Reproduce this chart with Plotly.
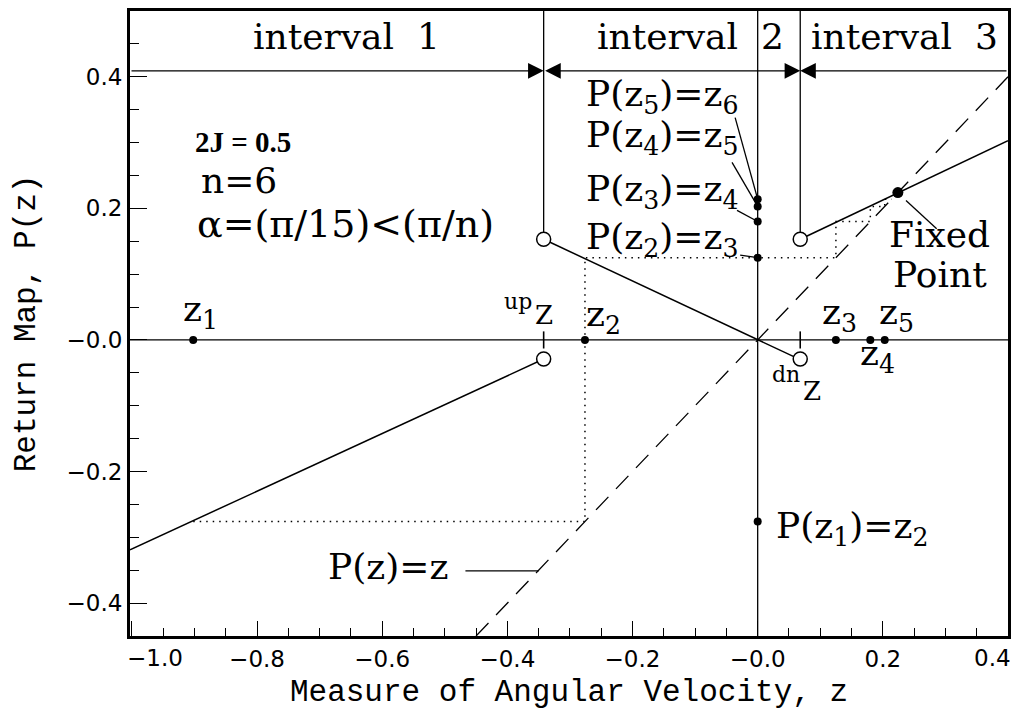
import plotly.graph_objects as go

# ---- axis extent and tick labels ----
X_RANGE = [-1.003, 0.40]
Y_RANGE = [-0.45, 0.50]
x_tickvals = [-1.0, -0.8, -0.6, -0.4, -0.2, 0.0, 0.2, 0.4]
x_ticktext = ["−1.0", "−0.8", "−0.6", "−0.4", "−0.2", "−0.0", "0.2", "0.4"]
y_tickvals = [-0.4, -0.2, 0.0, 0.2, 0.4]
y_ticktext = ["−0.4", "−0.2", "−0.0", "0.2", "0.4"]

# ---- discontinuities of the return map ----
z_up = -0.342
z_dn = 0.068
jump_high = 0.153
jump_low = -0.029

# ---- branches of the piecewise-linear return map ----
branch1_z = [-1.003, z_up]
branch1_p = [-0.319, jump_low]
branch2_z = [z_up, 0.0, z_dn]
branch2_p = [jump_high, 0.0, -0.030]
branch3_z = [z_dn, 0.40]
branch3_p = [jump_high, 0.303]

# ---- orbit z1 .. z6 and the fixed point ----
orbit_z = [-0.902, -0.276, 0.125, 0.180, 0.203, 0.214]
fixed_point = 0.224

# height of the interval arrows
arrow_y = 0.409

BLACK = "black"
SERIF = "DejaVu Serif"
TICK_FONT = dict(family="DejaVu Sans", size=23, color=BLACK)
fig = go.Figure()


def add_line(xs, ys, width=1.4, dash="solid"):
    fig.add_trace(go.Scatter(x=xs, y=ys, mode="lines", hoverinfo="skip",
                             line=dict(color=BLACK, width=width, dash=dash)))


# axes through the origin
add_line([X_RANGE[0], X_RANGE[1]], [0, 0], 1.3)
add_line([0, 0], [Y_RANGE[0], Y_RANGE[1]], 1.3)

# interval boundaries
add_line([z_up, z_up], [jump_high, Y_RANGE[1]], 1.3)
add_line([z_dn, z_dn], [jump_high, Y_RANGE[1]], 1.3)
add_line([z_up, z_up], [-0.013, 0.013], 1.6)
add_line([z_dn, z_dn], [-0.013, 0.013], 1.6)

# identity line P(z) = z
add_line([Y_RANGE[0], X_RANGE[1]], [Y_RANGE[0], X_RANGE[1]], 1.3, "18px,11px")

# cobweb of the orbit
cob_x, cob_y = [], []
for k in range(len(orbit_z) - 1):
    cob_x += [orbit_z[k], orbit_z[k + 1]]
    cob_y += [orbit_z[k + 1], orbit_z[k + 1]]
add_line(cob_x, cob_y, 1.5, "1.5px,5px")

# map branches
add_line(branch1_z, branch1_p, 1.5)
add_line(branch2_z, branch2_p, 1.5)
add_line(branch3_z, branch3_p, 1.5)

# leader lines for the labels
leaders = [
    ([-0.036, 0.0], [0.338, orbit_z[5]]),
    ([-0.041, 0.0], [0.270, orbit_z[4]]),
    ([-0.033, 0.0], [0.197, orbit_z[3]]),
    ([-0.028, 0.0], [0.129, orbit_z[2]]),
    ([0.237, 0.286], [0.212, 0.169]),
    ([-0.467, -0.350], [-0.351, -0.351]),
]
for lx, ly in leaders:
    add_line(lx, ly, 1.3)

# open circles at the jumps
fig.add_trace(go.Scatter(
    x=[z_up, z_up, z_dn, z_dn], y=[jump_high, jump_low, jump_high, jump_low],
    mode="markers", hoverinfo="skip",
    marker=dict(symbol="circle", size=14, color="white", line=dict(color=BLACK, width=1.5))))

# orbit points on the z axis and on the P axis
fig.add_trace(go.Scatter(x=orbit_z[:5], y=[0] * 5, mode="markers", hoverinfo="skip",
                         marker=dict(size=8, color=BLACK)))
fig.add_trace(go.Scatter(x=[0] * 5, y=orbit_z[1:], mode="markers", hoverinfo="skip",
                         marker=dict(size=8, color=BLACK)))
fig.add_trace(go.Scatter(x=[fixed_point], y=[fixed_point], mode="markers", hoverinfo="skip",
                         marker=dict(size=11, color=BLACK)))

# interval arrows
arrow_common = dict(xref="x", yref="y", axref="x", ayref="y", text="", showarrow=True,
                    arrowhead=2, arrowsize=2.4, arrowwidth=1.3, arrowcolor=BLACK,
                    standoff=0, startstandoff=0, startarrowhead=2, startarrowsize=2.4)
annotations = [
    dict(x=z_up, y=arrow_y, ax=X_RANGE[0], ay=arrow_y, **arrow_common),
    dict(x=z_dn, y=arrow_y, ax=z_up, ay=arrow_y, arrowside="end+start", **arrow_common),
    dict(x=z_dn, y=arrow_y, ax=X_RANGE[1], ay=arrow_y, **arrow_common),
]

# the two end tick labels sit inside the frame
annotations.append(dict(text=x_ticktext[0], x=x_tickvals[0], y=0, xref="x", yref="paper",
                        xanchor="left", yanchor="middle", xshift=-7, yshift=-22,
                        showarrow=False, font=TICK_FONT))
annotations.append(dict(text=x_ticktext[-1], x=x_tickvals[-1], y=0, xref="x", yref="paper",
                        xanchor="right", yanchor="middle", xshift=5, yshift=-22,
                        showarrow=False, font=TICK_FONT))
axis_ticktext = [""] + x_ticktext[1:-1] + [""]


def label(text, x, y, size=36, family=SERIF, xanchor="center", weight=None):
    font = dict(family=family, size=size, color=BLACK)
    if weight:
        font["weight"] = weight
    annotations.append(dict(text=text, x=x, y=y, xref="x", yref="y", showarrow=False,
                            xanchor=xanchor, yanchor="middle", font=font))


label("interval  1", -0.657, 0.461)
label("interval  2", -0.107, 0.461)
label("interval  3", 0.234, 0.461)

label("P(z<sub>5</sub>)=z<sub>6</sub>", -0.153, 0.370)
label("P(z<sub>4</sub>)=z<sub>5</sub>", -0.153, 0.308)
label("P(z<sub>3</sub>)=z<sub>4</sub>", -0.153, 0.226)
label("P(z<sub>2</sub>)=z<sub>3</sub>", -0.153, 0.153)

label("2J = 0.5", -0.903, 0.301, size=29, family="Liberation Serif", xanchor="left", weight="bold")
label("n=6", -0.893, 0.243, xanchor="left")
label("α=(π/15)<(π/n)", -0.899, 0.177, size=38, xanchor="left")

label("z<sub>1</sub>", -0.891, 0.044)
label("z<sub>2</sub>", -0.247, 0.036)
label("z<sub>3</sub>", 0.130, 0.038)
label("z<sub>5</sub>", 0.2226, 0.038)
label("z<sub>4</sub>", 0.192, -0.023)
label("up", -0.383, 0.058, size=22)
label("Z", -0.341, 0.038, size=26)
label("dn", 0.045, -0.052, size=22)
label("Z", 0.087, -0.077, size=26)

label("P(z<sub>1</sub>)=z<sub>2</sub>", 0.151, -0.287)
label("P(z)=z", -0.590, -0.345)
label("Fixed", 0.291, 0.160)
label("Point", 0.291, 0.100)

axis_common = dict(
    showgrid=False, zeroline=False, showline=True, linewidth=3, linecolor=BLACK,
    mirror=True, ticks="inside", tickwidth=1.3, tickcolor=BLACK,
    tickmode="array", tickfont=TICK_FONT,
    title_font=dict(family="Liberation Mono", size=31, color=BLACK),
)

fig.update_layout(
    width=1019, height=715,
    margin=dict(l=130, r=11, t=8, b=79),
    paper_bgcolor="white", plot_bgcolor="white",
    showlegend=False,
    annotations=annotations,
    xaxis=dict(range=X_RANGE, tickvals=x_tickvals, ticktext=axis_ticktext, ticklen=15,
               ticklabelstandoff=0,
               minor=dict(tickmode="linear", tick0=0, dtick=0.05, ticks="inside",
                          ticklen=8, tickwidth=1.3, tickcolor=BLACK),
               title=dict(text="Measure of Angular Velocity, z", standoff=9),
               **axis_common),
    yaxis=dict(range=Y_RANGE, tickvals=y_tickvals, ticktext=y_ticktext, ticklen=17,
               ticklabelstandoff=0,
               minor=dict(tickmode="linear", tick0=0, dtick=0.05, ticks="inside",
                          ticklen=9, tickwidth=1.3, tickcolor=BLACK),
               title=dict(text="Return Map, P(z)", standoff=22),
               **axis_common),
)

fig.write_html("out.html")
